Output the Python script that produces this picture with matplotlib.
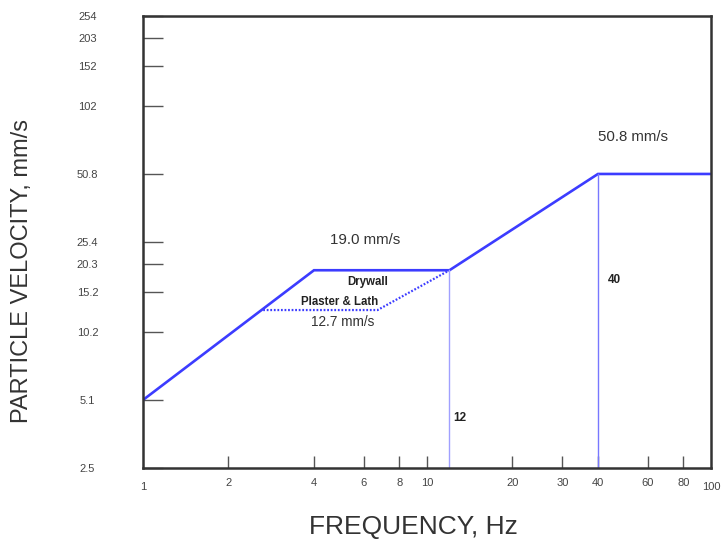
import matplotlib
matplotlib.use('Agg')
import matplotlib.pyplot as plt

plt.rcParams['font.family'] = ['Liberation Sans', 'DejaVu Sans']

# main criterion curve (drywall), Hz vs mm/s
drywall_f = [1, 4, 12, 40, 100]
drywall_v = [5.08, 19.05, 19.05, 50.8, 50.8]

# plaster & lath branch (dotted)
plaster_f = [2.65, 6.7, 12]
plaster_v = [12.7, 12.7, 19.05]

# marker frequencies and the level they reach
mark_f = [12, 40]
mark_v = [19.05, 50.8]
mark_col = ['#a0a0ff', '#7878ff']

yticks = [2.54, 5.08, 10.16, 15.24, 20.32, 25.4, 50.8, 101.6, 152.4, 203.2, 254]
ylabels = ['2.5', '5.1', '10.2', '15.2', '20.3', '25.4', '50.8', '102', '152', '203', '254']
xticks = [2, 4, 6, 8, 10, 20, 30, 40, 60, 80]
xlabels = ['2', '4', '6', '8', '10', '20', '30', '40', '60', '80']

blue = '#3c3cff'

fig = plt.figure(figsize=(7.24, 5.42), dpi=100)
ax = fig.add_axes([0.1975, 0.1365, 0.7845, 0.834])
ax.set_xscale('log')
ax.set_yscale('log')
ax.set_xlim(1, 100)
ax.set_ylim(2.54, 254)

ax.plot(drywall_f, drywall_v, color=blue, lw=1.9, solid_joinstyle='miter')
ax.plot(plaster_f, plaster_v, color=blue, lw=1.6, ls=(0, (0.8, 0.8)))

for f, v, c in zip(mark_f, mark_v, mark_col):
    ax.plot([f, f], [2.54, v], color=c, lw=1.0)

ax.text(13.07, 4.23, '12', fontsize=8.5, fontweight='bold', color='#222',
        ha='center', va='center')
ax.text(45.9, 17.3, '40', fontsize=8.5, fontweight='bold', color='#222',
        ha='center', va='center')

ax.text(53, 74, '50.8 mm/s', fontsize=10.8, color='#333', ha='center', va='center')
ax.text(6.05, 25.9, '19.0 mm/s', fontsize=10.8, color='#333', ha='center', va='center')
ax.text(6.16, 16.9, 'Drywall', fontsize=8.3, fontweight='bold', color='#222',
        ha='center', va='center')
ax.text(4.94, 13.8, 'Plaster & Lath', fontsize=8.3, fontweight='bold', color='#222',
        ha='center', va='center')
ax.text(5.06, 11.2, '12.7 mm/s', fontsize=9.8, color='#333', ha='center', va='center')

ax.set_yticks(yticks)
ax.set_yticklabels(ylabels)
ax.set_xticks(xticks)
ax.set_xticklabels(xlabels)
ax.minorticks_off()
ax.tick_params(axis='y', direction='in', length=14.5, width=1, color='#555',
               pad=40, labelsize=8, labelcolor='#444')
for lab in ax.get_yticklabels():
    lab.set_horizontalalignment('center')
ax.tick_params(axis='x', direction='in', length=8.5, width=1, color='#555',
               pad=7, labelsize=8, labelcolor='#444')

# the 1 and 100 labels sit on the spines
ax.text(1, -0.03, '1', transform=ax.get_xaxis_transform(), fontsize=8,
        color='#444', ha='center', va='top')
ax.text(100, -0.03, '100', transform=ax.get_xaxis_transform(), fontsize=8,
        color='#444', ha='center', va='top')

for s in ax.spines.values():
    s.set_linewidth(1.8)
    s.set_color('#333')

fig.text(0.031, 0.5, 'PARTICLE VELOCITY, mm/s', rotation=90, fontsize=17,
         color='#333', ha='center', va='center')
fig.text(0.571, 0.028, 'FREQUENCY, Hz', fontsize=19, color='#333',
         ha='center', va='center')

fig.savefig('out.png', dpi=100)
